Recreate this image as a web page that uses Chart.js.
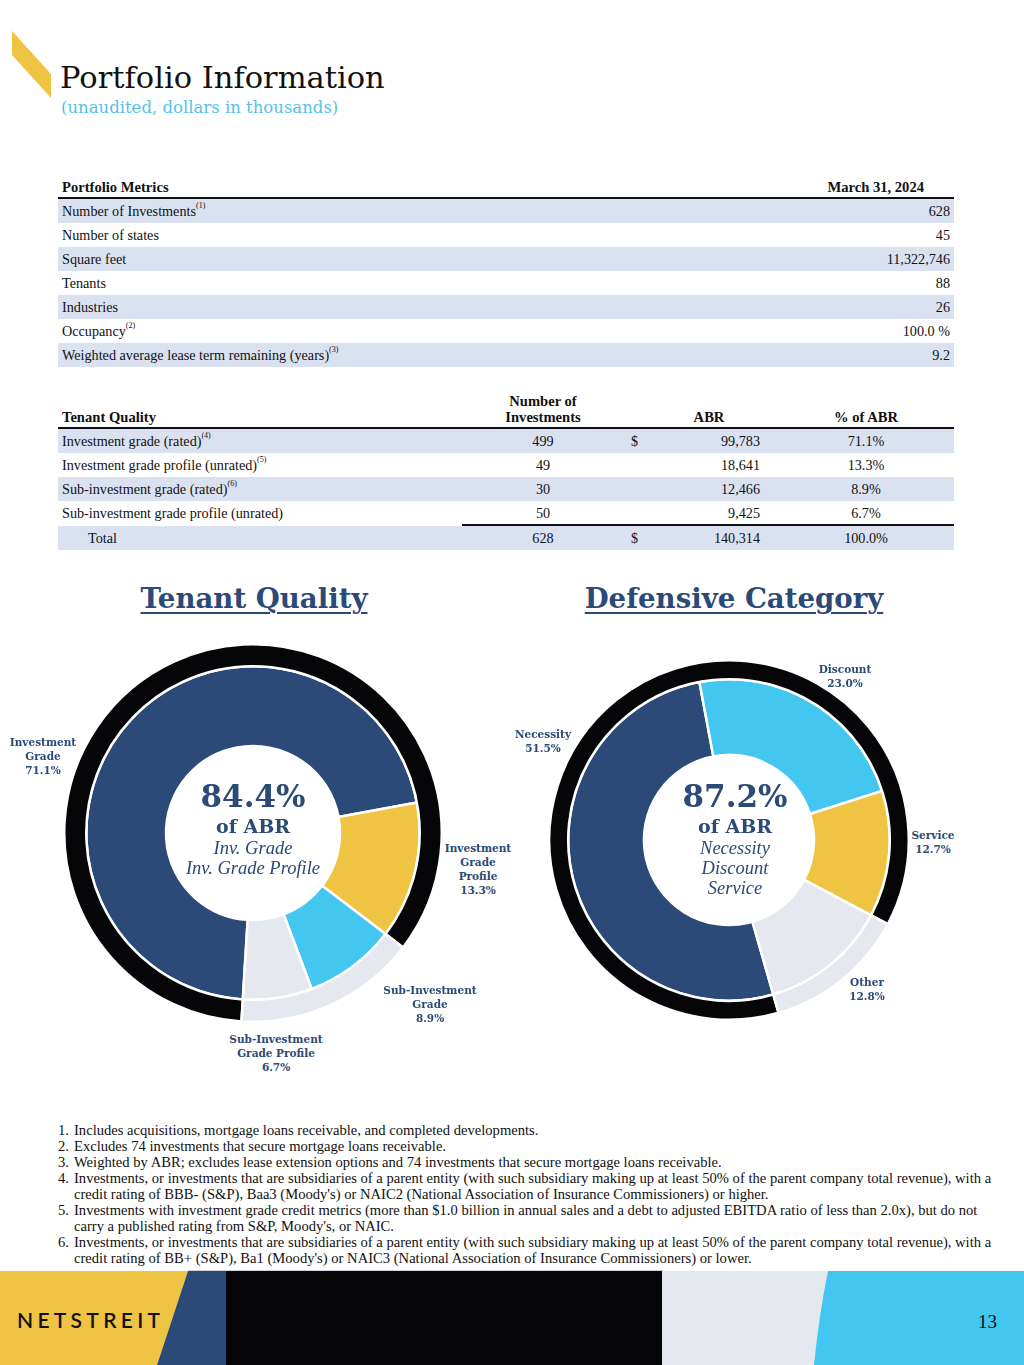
<!DOCTYPE html>
<html><head><meta charset="utf-8">
<script src="https://cdn.jsdelivr.net/npm/chart.js@4.4.1/dist/chart.umd.min.js"></script>
<style>
html,body{margin:0;padding:0;}
body{width:1024px;height:1365px;position:relative;background:#fff;overflow:hidden;font-family:"Liberation Serif",serif;color:#111;}
.abs{position:absolute;}
.title{left:60px;top:60px;font-family:"DejaVu Serif",serif;font-size:30.5px;color:#111;white-space:nowrap;}
.subtitle{left:61px;top:98px;font-family:"DejaVu Serif",serif;font-size:16.5px;color:#55c2ea;white-space:nowrap;}
.row{position:absolute;left:58px;width:896px;height:24px;line-height:24px;font-size:14.2px;}
.row span{position:absolute;white-space:nowrap;}
.stripe{background:#dae2f2;}
sup{font-size:8px;vertical-align:top;line-height:14px;}
.hdr{position:absolute;font-weight:bold;font-size:14.6px;white-space:nowrap;}
.sect{font-family:"DejaVu Serif",serif;font-weight:bold;font-size:27.6px;color:#2b4a77;text-decoration:underline;text-decoration-thickness:2px;text-underline-offset:4px;white-space:nowrap;transform:translateX(-50%);}
.lbl{font-family:"DejaVu Serif",serif;font-weight:bold;font-size:10.5px;line-height:14px;color:#2b4a77;text-align:center;white-space:nowrap;transform:translateX(-50%);}
.ctr{font-family:"DejaVu Serif",serif;color:#2b4a77;text-align:center;white-space:nowrap;transform:translateX(-50%);}
.ctr .big{font-weight:bold;font-size:31px;line-height:36px;}
.ctr .of{font-weight:bold;font-size:19px;line-height:24px;}
.ctr .it{font-family:"Liberation Serif",serif;font-style:italic;font-size:18.5px;line-height:20px;}
.notes{left:58px;top:1122px;font-size:14.6px;line-height:16px;white-space:nowrap;}
.notes div{position:relative;padding-left:16px;}
.notes div b{position:absolute;left:0;font-weight:normal;}
canvas{position:absolute;}
</style></head><body>

<svg class="abs" style="left:0;top:0" width="70" height="110"><polygon points="12,31 51,74 51,98 12,55" fill="#f0c443"/></svg>
<div class="abs title">Portfolio Information</div>
<div class="abs subtitle">(unaudited, dollars in thousands)</div>

<div id="t1"></div>
<div id="t2"></div>

<div class="abs sect" style="left:254px;top:582px;">Tenant Quality</div>
<div class="abs sect" style="left:734px;top:582px;">Defensive Category</div>

<canvas id="c1" width="380" height="380" style="left:63px;top:643px;width:380px;height:380px;"></canvas>
<canvas id="c2" width="362" height="362" style="left:548px;top:659px;width:362px;height:362px;"></canvas>

<div class="abs ctr" style="left:253px;top:778px;"><div class="big">84.4%</div><div class="of">of ABR</div><div class="it">Inv. Grade</div><div class="it">Inv. Grade Profile</div></div>
<div class="abs ctr" style="left:735px;top:778px;"><div class="big">87.2%</div><div class="of">of ABR</div><div class="it">Necessity</div><div class="it">Discount</div><div class="it">Service</div></div>

<div id="labels"></div>

<div class="abs notes" id="notes"></div>

<svg class="abs" style="left:0;top:1270px" width="1024" height="95">
  <rect x="188" y="0" width="475" height="1" fill="#cfd2da"/>
  <polygon points="0,1 188,1 157,95 0,95" fill="#f0c443"/>
  <polygon points="188,1 226,1 226,95 157,95" fill="#2b4a77"/>
  <rect x="226" y="1" width="436" height="94" fill="#060609"/>
  <rect x="662" y="1" width="170" height="94" fill="#e6e8ef"/>
  <path d="M828,1 L1024,1 L1024,95 L814,95 Q819,45 828,1 Z" fill="#43c6f0"/>
</svg>
<div class="abs" style="left:17px;top:1307px;font-family:Lato,'Noto Sans',sans-serif;font-weight:600;font-size:21px;letter-spacing:4.3px;color:#111;">NETSTREIT</div>
<div class="abs" style="left:978px;top:1311px;font-family:'Liberation Serif',serif;font-size:19px;color:#111;">13</div>

<script>
// ---- Portfolio metrics table ----
const metricLabels = ["Number of Investments","Number of states","Square feet","Tenants","Industries","Occupancy","Weighted average lease term remaining (years)"];
const metricNotes  = ["(1)","","","","","(2)","(3)"];
const metricValues = ["628","45","11,322,746","88","26","100.0 %","9.2"];

// ---- Tenant quality table ----
const tqRows   = ["Investment grade (rated)","Investment grade profile (unrated)","Sub-investment grade (rated)","Sub-investment grade profile (unrated)"];
const tqNotes  = ["(4)","(5)","(6)",""];
const tqCounts = [499, 49, 30, 50];
const tqABR    = [99783, 18641, 12466, 9425];
const tqPctTxt = ["71.1%","13.3%","8.9%","6.7%"];
const tqTotal  = {count: 628, abr: 140314, pct: "100.0%"};

// ---- Doughnut: Tenant Quality ----
const tenantLabels = ["Investment Grade","Investment Grade Profile","Sub-Investment Grade","Sub-Investment Grade Profile"];
const tenantValues = [71.1, 13.3, 8.9, 6.7];
const tenantGroupLabels = ["Inv. Grade + Inv. Grade Profile","Sub-Investment Grade + Profile"];
const tenantGroupValues = [84.4, 15.6];

// ---- Doughnut: Defensive Category ----
const defLabels = ["Necessity","Discount","Service","Other"];
const defValues = [51.5, 23.0, 12.7, 12.8];
const defGroupLabels = ["Necessity + Discount + Service","Other"];
const defGroupValues = [87.2, 12.8];

// ---- Footnotes ----
const footnotes = [
 "Includes acquisitions, mortgage loans receivable, and completed developments.",
 "Excludes 74 investments that secure mortgage loans receivable.",
 "Weighted by ABR; excludes lease extension options and 74 investments that secure mortgage loans receivable.",
 "Investments, or investments that are subsidiaries of a parent entity (with such subsidiary making up at least 50% of the parent company total revenue), with a<br>credit rating of BBB- (S&amp;P), Baa3 (Moody's) or NAIC2 (National Association of Insurance Commissioners) or higher.",
 "Investments with investment grade credit metrics (more than $1.0 billion in annual sales and a debt to adjusted EBITDA ratio of less than 2.0x), but do not<br>carry a published rating from S&amp;P, Moody's, or NAIC.",
 "Investments, or investments that are subsidiaries of a parent entity (with such subsidiary making up at least 50% of the parent company total revenue), with a<br>credit rating of BB+ (S&amp;P), Ba1 (Moody's) or NAIC3 (National Association of Insurance Commissioners) or lower."
];

const NAVY="#2b4a77", YELLOW="#f0c443", CYAN="#43c6f0", LGRAY="#e6e8ef", BLACK="#060609";
const fmt = n => n.toLocaleString("en-US");

// build table 1
(function(){
  const t = document.getElementById("t1");
  let h = '<div class="hdr" style="left:62px;top:179px;">Portfolio Metrics</div>';
  h += '<div class="hdr" style="right:100px;top:179px;">March 31, 2024</div>';
  h += '<div class="abs" style="left:58px;top:197px;width:896px;height:2px;background:#111"></div>';
  metricLabels.forEach((l,i)=>{
    const top = 199 + i*24;
    h += `<div class="row ${i%2===0?'stripe':''}" style="top:${top}px"><span style="left:4px">${l}${metricNotes[i]?'<sup>'+metricNotes[i]+'</sup>':''}</span><span style="right:4px">${metricValues[i]}</span></div>`;
  });
  t.innerHTML = h;
})();

// build table 2
(function(){
  const t = document.getElementById("t2");
  let h = '';
  h += '<div class="hdr" style="left:62px;top:409px;">Tenant Quality</div>';
  h += '<div class="hdr" style="left:543px;top:393px;transform:translateX(-50%);text-align:center;line-height:16px;">Number of<br>Investments</div>';
  h += '<div class="hdr" style="left:709px;top:409px;transform:translateX(-50%);">ABR</div>';
  h += '<div class="hdr" style="left:866px;top:409px;transform:translateX(-50%);">% of ABR</div>';
  h += '<div class="abs" style="left:58px;top:427px;width:896px;height:2px;background:#111"></div>';
  tqRows.forEach((l,i)=>{
    const top = 429 + i*24;
    h += `<div class="row ${i%2===0?'stripe':''}" style="top:${top}px">`+
      `<span style="left:4px">${l}${tqNotes[i]?'<sup>'+tqNotes[i]+'</sup>':''}</span>`+
      `<span style="left:485px;transform:translateX(-50%)">${tqCounts[i]}</span>`+
      (i===0?`<span style="left:573px">$</span>`:'')+
      `<span style="left:702px;transform:translateX(-100%)">${fmt(tqABR[i])}</span>`+
      `<span style="left:808px;transform:translateX(-50%)">${tqPctTxt[i]}</span></div>`;
  });
  h += '<div class="abs" style="left:462px;top:524px;width:492px;height:2px;background:#111"></div>';
  h += `<div class="row stripe" style="top:526px"><span style="left:30px">Total</span>`+
      `<span style="left:485px;transform:translateX(-50%)">${tqTotal.count}</span>`+
      `<span style="left:573px">$</span>`+
      `<span style="left:702px;transform:translateX(-100%)">${fmt(tqTotal.abr)}</span>`+
      `<span style="left:808px;transform:translateX(-50%)">${tqTotal.pct}</span></div>`;
  t.innerHTML = h;
})();

// footnotes
document.getElementById("notes").innerHTML = footnotes.map((f,i)=>`<div><b>${i+1}.</b>${f}</div>`).join("");

// chart labels (text placed around the rings)
const labelSpots = [
  {x:43,  y:735, lines:["Investment","Grade", tenantValues[0].toFixed(1)+"%"]},
  {x:478, y:841, lines:["Investment","Grade","Profile", tenantValues[1].toFixed(1)+"%"]},
  {x:430, y:983, lines:["Sub-Investment","Grade", tenantValues[2].toFixed(1)+"%"]},
  {x:276, y:1032,lines:["Sub-Investment","Grade Profile", tenantValues[3].toFixed(1)+"%"]},
  {x:845, y:662, lines:[defLabels[1], defValues[1].toFixed(1)+"%"]},
  {x:543, y:727, lines:[defLabels[0], defValues[0].toFixed(1)+"%"]},
  {x:933, y:828, lines:[defLabels[2], defValues[2].toFixed(1)+"%"]},
  {x:867, y:975, lines:[defLabels[3], defValues[3].toFixed(1)+"%"]}
];
document.getElementById("labels").innerHTML = labelSpots.map(s=>`<div class="abs lbl" style="left:${s.x}px;top:${s.y}px">${s.lines.join("<br>")}</div>`).join("");

function donut(id, groupLabels, groupValues, labels, values, colors, rotation, cutout, wOuter, wInner){
  new Chart(document.getElementById(id), {
    type: "doughnut",
    data: {
      labels: labels,
      datasets: [
        {label:"group", data: groupValues, backgroundColor:[BLACK, LGRAY], borderColor:"#fff", borderWidth:2.5, weight:wOuter},
        {label:"segments", data: values, backgroundColor: colors, borderColor:"#fff", borderWidth:2.5, weight:wInner}
      ]
    },
    options: {
      responsive:false, animation:false, devicePixelRatio:1,
      rotation: rotation, cutout: cutout,
      layout:{padding:0},
      plugins:{legend:{display:false}, tooltip:{enabled:false}}
    }
  });
}
donut("c1", tenantGroupLabels, tenantGroupValues, tenantLabels, tenantValues, [NAVY, YELLOW, CYAN, LGRAY], 183.5, "46.1%", 22, 79.5);
donut("c2", defGroupLabels, defGroupValues, defLabels, defValues, [NAVY, CYAN, YELLOW, LGRAY], 164, "47.3%", 19, 76);
</script>
</body></html>
